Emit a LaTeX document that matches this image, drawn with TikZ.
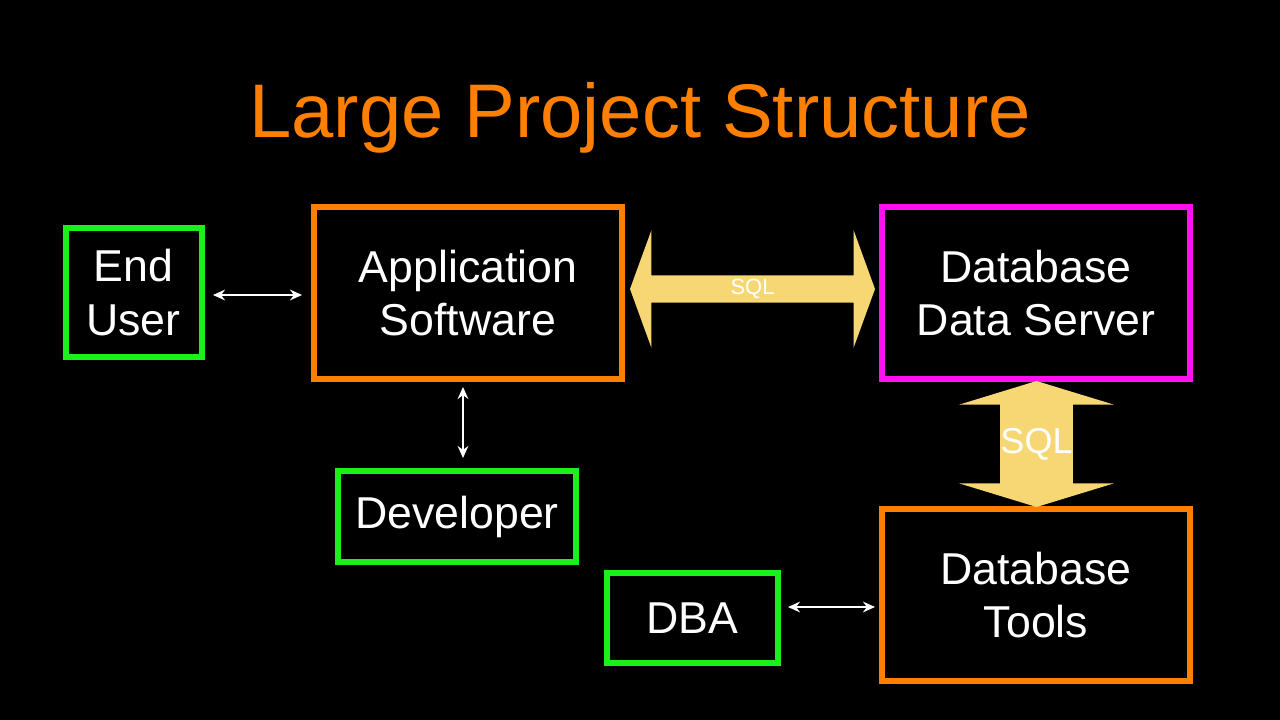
\documentclass[tikz,border=0pt]{standalone}
\usepackage{fontspec}
\setmainfont{Liberation Sans}
\usetikzlibrary{arrows.meta,positioning,shapes.arrows}
\definecolor{orng}{HTML}{FF8000}
\definecolor{grn}{HTML}{1AF01A}
\definecolor{mag}{HTML}{FF10F0}
\definecolor{sand}{HTML}{F7D774}
\begin{document}
\begin{tikzpicture}[x=0.75pt,y=-0.75pt,
        mybox/.style={
        draw,
        line width=4.5pt,
        align=center,
        text=white,
        inner sep=0pt,
        font=\fontsize{33.5}{40}\selectfont},
    myarrow/.style={{Stealth[length=9pt,width=8pt]}-{Stealth[length=9pt,width=8pt]},white,line width=1.5pt},
    fatarrow/.style={double arrow,fill=sand,text=white,inner sep=0pt}
    ]
    \fill[black] (0,0) rectangle (1280,720);
    \node[text=orng,font=\fontsize{57}{60}\selectfont] (title) at (640,118) {Large Project Structure};

    \node[mybox,draw=grn,minimum width=102pt,minimum height=96pt] (user) at (133.5,292.5) {End\\User};
    \node[mybox,draw=orng,minimum width=231pt,minimum height=129pt] (app) at (468,293) {Application\\Software};
    \node[mybox,draw=mag,minimum width=231pt,minimum height=129pt] (server) at (1036,293) {Database\\Data Server};
    \node[mybox,draw=grn,minimum width=178pt,minimum height=68pt] (dev) at (457,516.5) {Developer};
    \node[mybox,draw=grn,minimum width=128pt,minimum height=67pt] (dba) at (692.5,618) {DBA};
    \node[mybox,draw=orng,minimum width=231pt,minimum height=129pt] (tools) at (1036,595) {Database\\Tools};

    % thin connectors
    \coordinate (u1) at (213,295); \coordinate (u2) at (302,295);
    \draw[myarrow] (u1) -- (u2);
    \coordinate (d1) at (463,387); \coordinate (d2) at (463,458);
    \draw[myarrow] (d1) -- (d2);
    \coordinate (t1) at (788,607); \coordinate (t2) at (875,607);
    \draw[myarrow] (t1) -- (t2);

    % SQL links
    \node[fatarrow,minimum height=183.75pt,minimum width=88.5pt,
          double arrow head extend=25pt,double arrow tip angle=140,
          font=\fontsize{16.5}{18}\selectfont] (sqlh) at (752.5,289) {SQL};
    \node[fatarrow,rotate=90,minimum height=94.5pt,minimum width=56pt,
          double arrow head extend=31pt,double arrow tip angle=146,
          font=\fontsize{27}{30}\selectfont] (sqlv) at (1036.5,444) {\rotatebox{-90}{SQL}};
\end{tikzpicture}
\end{document}
